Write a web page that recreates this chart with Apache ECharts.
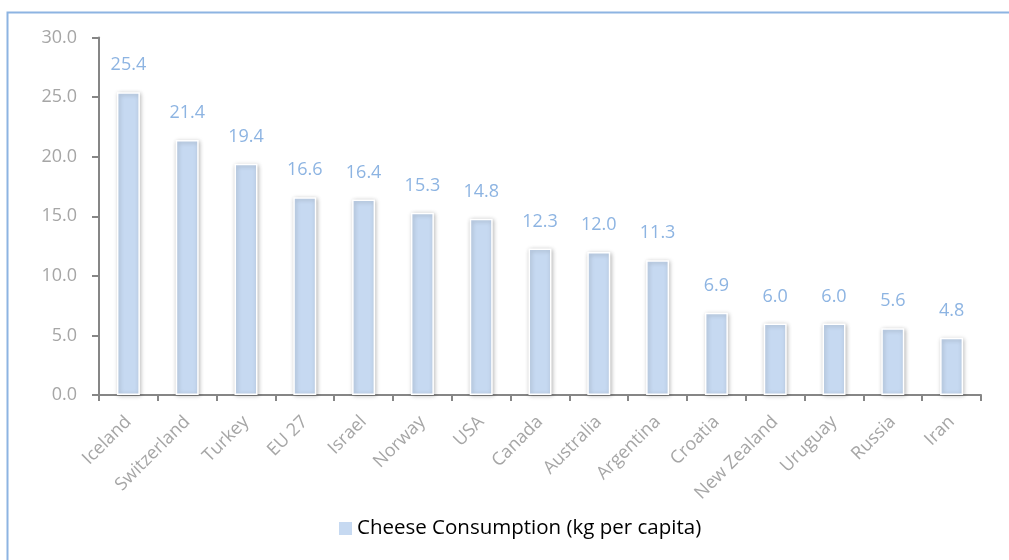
<!DOCTYPE html>
<html>
<head>
<meta charset="utf-8">
<script src="https://cdn.jsdelivr.net/npm/echarts@6/dist/echarts.min.js"></script>
<style>
html,body{margin:0;padding:0;background:#fff;}
#chart{width:1009px;height:560px;}
</style>
</head>
<body>
<div id="chart"></div>
<script>
var categories = ['Iceland','Switzerland','Turkey','EU 27','Israel','Norway','USA','Canada','Australia','Argentina','Croatia','New Zealand','Uruguay','Russia','Iran'];
var consumption = [25.4,21.4,19.4,16.6,16.4,15.3,14.8,12.3,12.0,11.3,6.9,6.0,6.0,5.6,4.8];
var seriesName = 'Cheese Consumption (kg per capita)';

var chart = echarts.init(document.getElementById('chart'), null, {renderer:'canvas'});
var font = 'Open Sans, sans-serif';
chart.setOption({
  animation:false,
  backgroundColor:'#fff',
  graphic:[{
    type:'rect', silent:true,
    shape:{x:7.5,y:12.5,width:1100,height:700},
    style:{fill:'none',stroke:'#8DB4E2',lineWidth:2}
  }],
  grid:{left:99,right:28,top:37.5,bottom:165,containLabel:false},
  legend:{
    data:[{name:seriesName,icon:'rect',itemStyle:{color:'#C6D9F1',borderWidth:0,shadowBlur:0}}],
    left:334, top:513,
    itemWidth:13, itemHeight:13, itemGap:6,
    textStyle:{color:'#000',fontSize:20.5,fontFamily:font}
  },
  xAxis:{
    type:'category', data:categories,
    axisLine:{lineStyle:{color:'#868686',width:2}},
    axisTick:{show:true,length:6,lineStyle:{color:'#868686',width:2}},
    axisLabel:{rotate:45,color:'#A6A6A6',fontSize:18,fontFamily:font,margin:24,interval:0}
  },
  yAxis:{
    type:'value', min:0, max:30, interval:5,
    axisLine:{show:true,lineStyle:{color:'#868686',width:2}},
    axisTick:{show:true,length:7,lineStyle:{color:'#868686',width:2}},
    splitLine:{show:false},
    axisLabel:{color:'#A6A6A6',fontSize:18,fontFamily:font,margin:22,formatter:function(v){return v.toFixed(1);}}
  },
  series:[{
    name:seriesName, type:'bar', data:consumption, barWidth:23,
    itemStyle:{color:'#C6D9F1',borderColor:'#fff',borderWidth:1.5,shadowColor:'rgba(0,0,0,0.25)',shadowBlur:4,shadowOffsetX:1,shadowOffsetY:1},
    label:{show:true,position:'top',distance:18,color:'#8DB4E2',fontSize:18,fontFamily:font,formatter:function(p){return p.value.toFixed(1);}}
  }]
});
</script>
</body>
</html>
